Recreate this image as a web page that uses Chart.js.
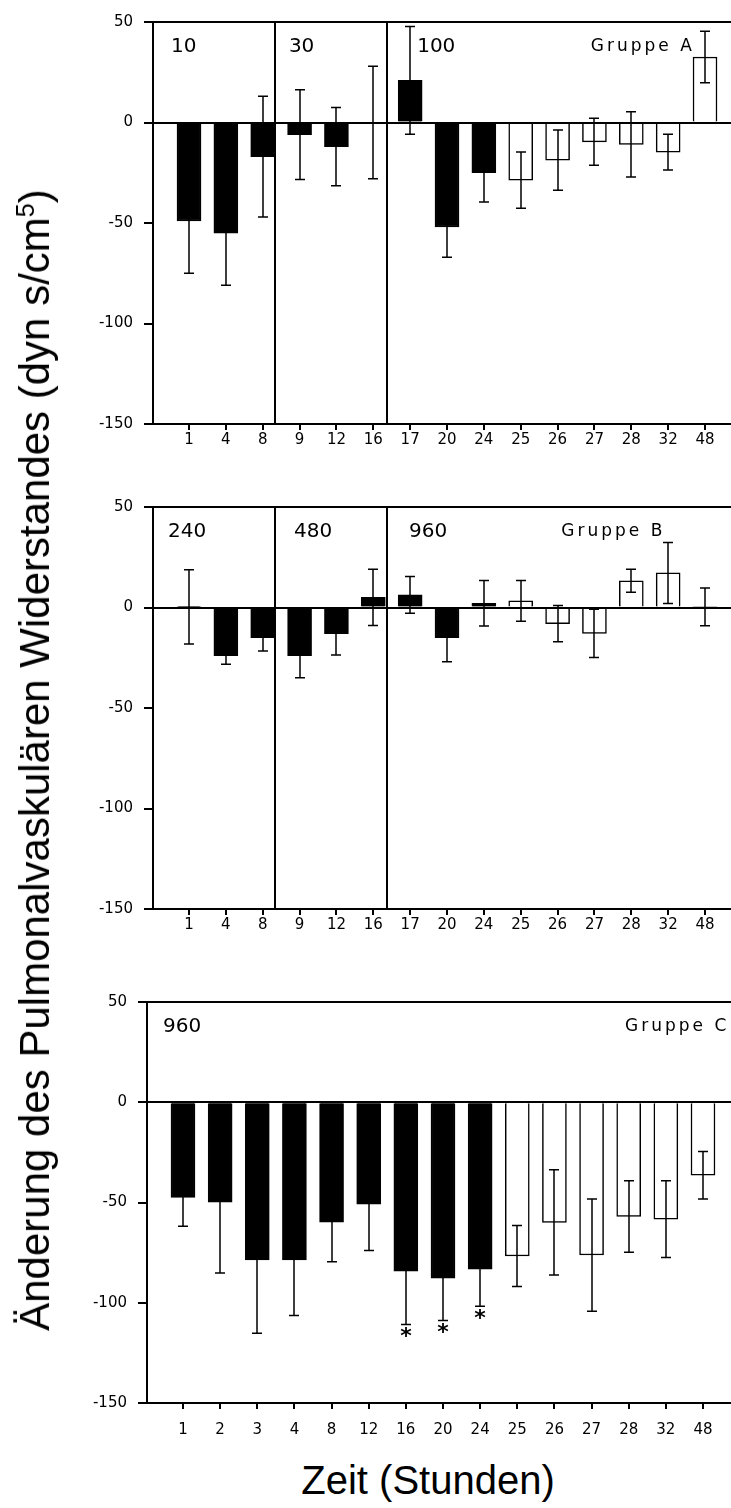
<!DOCTYPE html>
<html>
<head>
<meta charset="utf-8">
<script src="https://cdn.jsdelivr.net/npm/chart.js@4.4.1/dist/chart.umd.min.js"></script>
<style>
  html, body { margin:0; padding:0; background:#fff; }
  #page { position:relative; width:731px; height:1508px; overflow:hidden; }
  canvas { position:absolute; left:0; }
  .title { position:absolute; font-family:'Liberation Sans', Arial, sans-serif; font-size:42px; white-space:nowrap; color:#000; transform:translate(-50%,-50%); }
  #yTitle { left:35px; top:760px; transform:translate(-50%,-50%) rotate(-90deg); }
  #xTitle { left:428px; top:1480px; font-size:40px; }
  sup { font-size:0.6em; line-height:0; vertical-align:super; }
</style>
</head>
<body>
<div id="page">
  <canvas id="chartA" width="731" height="470" style="top:0"></canvas>
  <canvas id="chartB" width="731" height="470" style="top:480px"></canvas>
  <canvas id="chartC" width="731" height="480" style="top:970px"></canvas>
  <div class="title" id="yTitle">Änderung des Pulmonalvaskulären Widerstandes (dyn s/cm<sup>5</sup>)</div>
  <div class="title" id="xTitle">Zeit (Stunden)</div>
</div>
<script>
/* PVR change per hour, groups A-C */
const hoursAB = ['1','4','8','9','12','16','17','20','24','25','26','27','28','32','48'];
const hoursC  = ['1','2','3','4','8','12','16','20','24','25','26','27','28','32','48'];

const meanA = [-49, -55, -17, -6, -12, 0, 21, -52, -25, -28.7, -18.7, -9.6, -10.9, -14.7, 32.6];
const errA  = [26, 26, 30, 22.3, 19.5, 28, 26.8, 15, 14.5, 14, 15, 11.7, 16.2, 8.9, 12.8];

const meanB = [0.3, -24, -15, -24, -13, 5, 6.3, -15, 2.1, 3.3, -8, -12.9, 13.3, 17.2, 0.3];
const errB  = [18.5, 4.2, 6.6, 11, 10.6, 14, 9.1, 12, 11.3, 10.1, 9, 12, 5.7, 15.2, 9.4];

const meanC = [-47.5, -49.8, -78.6, -78.6, -59.8, -50.8, -84.3, -87.8, -83.3, -76.7, -59.9, -76.2, -57, -58.3, -36.4];
const errC  = [14.3, 35.3, 36.6, 27.7, 19.7, 23.1, 26.5, 21, 18.5, 15.2, 26.2, 28, 17.8, 19.1, 11.8];
const signifC = [0, 0, 0, 0, 0, 0, 1, 1, 1, 0, 0, 0, 0, 0, 0];

const dosesA = ['10', '30', '100'];
const dosesB = ['240', '480', '960'];
const dosesC = ['960'];

Chart.defaults.font.family = '"DejaVu Sans", sans-serif';
Chart.defaults.color = '#000';

const panelDecor = {
  id: 'panelDecor',
  afterDatasetsDraw(chart, args, opts) {
    const { ctx, chartArea: a, scales: { x, y } } = chart;
    ctx.save();
    ctx.strokeStyle = '#000';
    ctx.fillStyle = '#000';
    ctx.lineWidth = 2;
    ctx.beginPath();
    ctx.moveTo(a.left, a.top); ctx.lineTo(a.right, a.top);
    const y0 = Math.round(y.getPixelForValue(0));
    ctx.moveTo(a.left, y0); ctx.lineTo(a.right, y0);
    opts.breaks.forEach(b => {
      const px = Math.round(x.getPixelForValue(b));
      ctx.moveTo(px, a.top); ctx.lineTo(px, a.bottom);
    });
    ctx.stroke();

    ctx.lineWidth = 1.5;
    opts.mean.forEach((m, i) => {
      const px = Math.round(x.getPixelForValue(i));
      const hi = y.getPixelForValue(m + opts.err[i]);
      const lo = y.getPixelForValue(m - opts.err[i]);
      ctx.beginPath();
      ctx.moveTo(px, hi); ctx.lineTo(px, lo);
      ctx.moveTo(px - 5, hi); ctx.lineTo(px + 5, hi);
      ctx.moveTo(px - 5, lo); ctx.lineTo(px + 5, lo);
      ctx.stroke();
      if (opts.signif && opts.signif[i]) {
        ctx.font = 'bold 22px "DejaVu Sans"';
        ctx.textAlign = 'center';
        ctx.textBaseline = 'top';
        ctx.fillText('*', px, lo + 2);
      }
    });

    ctx.textAlign = 'left';
    ctx.textBaseline = 'middle';
    ctx.font = '20px "DejaVu Sans"';
    opts.doses.forEach((d, i) => ctx.fillText(d, x.getPixelForValue(opts.doseAt[i]), a.top + 25));
    ctx.font = '17px "DejaVu Sans"';
    ctx.letterSpacing = '3px';
    ctx.fillText(opts.group, x.getPixelForValue(opts.groupAt), a.top + 25);
    ctx.restore();
  }
};

function makePanel(p) {
  return new Chart(document.getElementById(p.id), {
    type: 'bar',
    data: {
      datasets: [{
        data: p.mean.map((v, i) => ({ x: i, y: v })),
        backgroundColor: c => Number(p.hours[c.dataIndex]) > 24 ? '#fff' : '#000',
        borderColor: '#000',
        borderWidth: 1.5,
        barThickness: 24
      }]
    },
    options: {
      responsive: false,
      animation: false,
      layout: { padding: { top: p.top, left: 0, right: 0, bottom: 0 } },
      plugins: {
        legend: { display: false },
        tooltip: { enabled: false },
        panelDecor: { mean: p.mean, err: p.err, signif: p.signif, breaks: p.breaks, doses: p.doses, doseAt: p.doseAt, group: p.group, groupAt: p.groupAt }
      },
      scales: {
        x: {
          type: 'linear', min: p.xMin, max: p.xMax, offset: false,
          afterBuildTicks: s => { s.ticks = p.hours.map((_, i) => ({ value: i })); },
          afterFit: s => { s.height = p.xHeight; },
          ticks: { callback: v => p.hours[v], autoSkip: false, maxRotation: 0, font: { size: 15 }, padding: p.tickPad },
          grid: { offset: false, drawOnChartArea: false, color: '#000', lineWidth: 2, tickLength: 6 },
          border: { color: '#000', width: 2 }
        },
        y: {
          min: -150, max: 50,
          afterFit: s => { s.width = p.axisLeft; },
          ticks: { stepSize: 50, font: { size: 15 }, padding: 11 },
          grid: { drawOnChartArea: false, color: '#000', lineWidth: 2, tickLength: 9 },
          border: { color: '#000', width: 2 }
        }
      }
    },
    plugins: [panelDecor]
  });
}

makePanel({ id: 'chartA', hours: hoursAB, mean: meanA, err: errA, doses: dosesA, group: 'Gruppe A',
  top: 22, xHeight: 46, axisLeft: 153, xMin: -0.977, xMax: 14.705, tickPad: 1,
  breaks: [2.33, 5.37], doseAt: [-0.49, 2.71, 6.19], groupAt: 10.9 });
makePanel({ id: 'chartB', hours: hoursAB, mean: meanB, err: errB, doses: dosesB, group: 'Gruppe B',
  top: 27, xHeight: 41, axisLeft: 153, xMin: -0.977, xMax: 14.705, tickPad: 1,
  breaks: [2.33, 5.37], doseAt: [-0.57, 2.85, 5.97], groupAt: 10.1 });
makePanel({ id: 'chartC', hours: hoursC, mean: meanC, err: errC, signif: signifC, doses: dosesC, group: 'Gruppe C',
  top: 32, xHeight: 47, axisLeft: 147, xMin: -0.969, xMax: 14.754, tickPad: 12,
  breaks: [], doseAt: [-0.54], groupAt: 11.9 });
</script>
</body>
</html>
